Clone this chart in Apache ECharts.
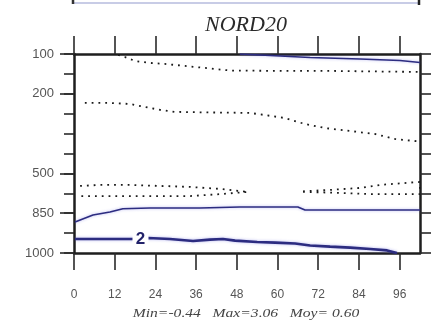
<!DOCTYPE html>
<html>
<head>
<meta charset="utf-8">
<script src="https://cdn.jsdelivr.net/npm/echarts@6/dist/echarts.min.js"></script>
<style>
  html, body { margin: 0; padding: 0; background: #fff; }
  #chart { width: 438px; height: 322px; }
</style>
</head>
<body>
<div id="chart"></div>
<script>
// Pressure levels (hPa), drawn on an equally spaced level index axis
const levels = [100, 150, 200, 250, 300, 400, 500, 700, 850, 925, 1000];
const labelledLevels = [100, 200, 500, 850, 1000];
// Forecast hours
const hourTicks = [0, 12, 24, 36, 48, 60, 72, 84, 96];
const hourMax = 102;

// Contours: [hour, level index]
// negative contours (dotted)
const negUpper = [[13, 0.05], [15, 0.15], [18, 0.35], [22.4, 0.45], [26.8, 0.5], [32.7, 0.6], [38.6, 0.7],
  [46, 0.83], [60.7, 0.85], [75.5, 0.85], [90.2, 0.88], [102, 0.9]];
const negJet = [[3.2, 2.46], [10.6, 2.46], [16.5, 2.51], [20.9, 2.66], [25.4, 2.81], [29.8, 2.91], [41.6, 2.94],
  [51.9, 2.96], [56.3, 3.07], [62.2, 3.22], [68.1, 3.52], [74, 3.72], [81.4, 3.87], [88.7, 4.02],
  [94.6, 4.27], [102, 4.4]];
const negMidLeft = [[1.8, 6.63], [7.7, 6.58], [16.5, 6.58], [25.4, 6.63], [34.2, 6.68], [43.1, 6.78], [51.3, 6.93],
  [51.3, 7.0], [43.1, 7.04], [34.2, 7.14], [25.4, 7.14], [16.5, 7.14], [7.7, 7.14], [1.8, 7.14]];
const negMidRight = [[67.5, 6.9], [75.5, 6.83], [84.3, 6.73], [90.2, 6.58], [100, 6.45], [102, 6.43],
  [102, 7.04], [95.5, 7.04], [87.3, 7.04], [78.4, 6.98], [67.5, 6.93]];
// positive contours (solid)
const posTop = [[48.9, 0], [57.8, 0.075], [69.6, 0.18], [84.3, 0.25], [96.1, 0.33], [102, 0.43]];
const posLow = [[0.3, 8.44], [5.6, 8.09], [10.6, 7.94], [14.4, 7.78], [22.4, 7.74], [37.1, 7.74], [48.9, 7.69],
  [66, 7.69], [68.1, 7.84], [84.3, 7.84], [102, 7.84]];
const posTwo = [[0.3, 9.3], [7.7, 9.3], [17.1, 9.3], [21.8, 9.25], [28.3, 9.3], [35.1, 9.4], [40.1, 9.33],
  [43.9, 9.3], [47.5, 9.38], [54, 9.45], [59.3, 9.48], [65.2, 9.52], [69.6, 9.62], [75.5, 9.68],
  [81.4, 9.73], [87.3, 9.8], [92.3, 9.87], [95.2, 10]];
const twoLabel = { value: 2, at: [19.6, 9.29] };

const stats = { min: '-0.44', max: '3.06', moy: '0.60' };
const title = 'NORD20';

const levelIndex = levels.map((_, i) => i);
const labelledIndex = labelledLevels.map(l => levels.indexOf(l));

const chart = echarts.init(document.getElementById('chart'), null, { renderer: 'canvas' });

const frame = '#1e1e1e';
const tickCol = '#2a2a2a';
const labelStyle = { color: '#555', fontFamily: 'Liberation Sans', fontSize: 12 };
const contourBlue = '#2c2c80';

function dotted(data) {
  return {
    type: 'line', data, xAxisIndex: 0, yAxisIndex: 0, showSymbol: false, symbol: 'none', silent: true,
    lineStyle: { color: '#1a1a1a', width: 1.8, type: [1.8, 5], cap: 'butt' }, z: 3
  };
}
function solid(data, w) {
  return {
    type: 'line', data, xAxisIndex: 0, yAxisIndex: 0, showSymbol: false, symbol: 'none', silent: true,
    lineStyle: { color: contourBlue, width: w, shadowColor: 'rgba(90,90,220,0.45)', shadowBlur: 3 }, z: 3
  };
}

chart.setOption({
  animation: false,
  backgroundColor: '#fff',
  grid: { left: 74, right: 18, top: 54, bottom: 69, containLabel: false },
  xAxis: [
    {
      type: 'value', position: 'bottom', min: 0, max: hourMax, splitLine: { show: false },
      axisLine: { onZero: false, lineStyle: { color: frame, width: 2.5 } },
      axisTick: { show: true, inside: false, length: 17, customValues: hourTicks, lineStyle: { color: tickCol, width: 1.6 } },
      axisLabel: { ...labelStyle, margin: 36, customValues: hourTicks }
    },
    {
      type: 'value', position: 'top', min: 0, max: hourMax, splitLine: { show: false },
      axisLine: { onZero: false, lineStyle: { color: frame, width: 2.5 } },
      axisTick: { show: true, inside: false, length: 18, customValues: hourTicks, lineStyle: { color: tickCol, width: 1.6 } },
      axisLabel: { show: false }
    }
  ],
  yAxis: [
    {
      type: 'value', position: 'left', inverse: true, min: 0, max: levels.length - 1, splitLine: { show: false },
      axisLine: { onZero: false, lineStyle: { color: frame, width: 2.5 } },
      axisTick: { show: true, length: 14, customValues: labelledIndex, lineStyle: { color: tickCol, width: 1.6 } },
      axisLabel: { ...labelStyle, fontSize: 13, margin: 20, customValues: labelledIndex, formatter: v => String(levels[Math.round(v)]) }
    },
    {
      type: 'value', position: 'left', inverse: true, min: 0, max: levels.length - 1, splitLine: { show: false },
      axisLine: { show: false, onZero: false },
      axisTick: { show: true, length: 10, customValues: levelIndex, lineStyle: { color: tickCol, width: 1.6 } },
      axisLabel: { show: false }
    },
    {
      type: 'value', position: 'right', inverse: true, min: 0, max: levels.length - 1, splitLine: { show: false },
      axisLine: { onZero: false, lineStyle: { color: frame, width: 2.5 } },
      axisTick: { show: true, length: 11, customValues: levelIndex, lineStyle: { color: tickCol, width: 1.6 } },
      axisLabel: { show: false }
    }
  ],
  series: [
    dotted(negUpper),
    dotted(negJet),
    dotted(negMidLeft),
    dotted(negMidRight),
    solid(posTop, 1.5),
    solid(posLow, 1.6),
    solid(posTwo, 2.6),
    {
      type: 'scatter', xAxisIndex: 0, yAxisIndex: 0, silent: true, z: 10,
      data: [twoLabel.at], symbol: 'rect', symbolSize: [16, 16],
      itemStyle: { color: '#ffffff', opacity: 1 },
      label: {
        show: true, position: 'inside', formatter: String(twoLabel.value),
        color: '#22226a', fontFamily: 'Liberation Sans', fontWeight: 'bold', fontSize: 17
      }
    }
  ],
  graphic: [
    // bottom edge of the panel above
    { type: 'line', shape: { x1: 73, y1: 3, x2: 420, y2: 3 }, style: { stroke: '#c8cce6', lineWidth: 2 }, silent: true },
    { type: 'line', shape: { x1: 73, y1: -2, x2: 73, y2: 4 }, style: { stroke: '#333', lineWidth: 2.5 }, silent: true },
    { type: 'line', shape: { x1: 419, y1: -2, x2: 419, y2: 5 }, style: { stroke: '#222', lineWidth: 2.5 }, silent: true },
    {
      type: 'text', x: 246, y: 25, silent: true,
      style: { text: title, font: 'italic 22px "Liberation Serif"', fill: '#2a2a2a', align: 'center', verticalAlign: 'middle' }
    },
    {
      type: 'text', x: 246, y: 314, scaleX: 1.2, silent: true,
      style: {
        text: 'Min=' + stats.min + '   Max=' + stats.max + '   Moy= ' + stats.moy,
        font: 'italic 13px "Liberation Serif"', fill: '#444', align: 'center', verticalAlign: 'middle'
      }
    }
  ]
});
</script>
</body>
</html>
